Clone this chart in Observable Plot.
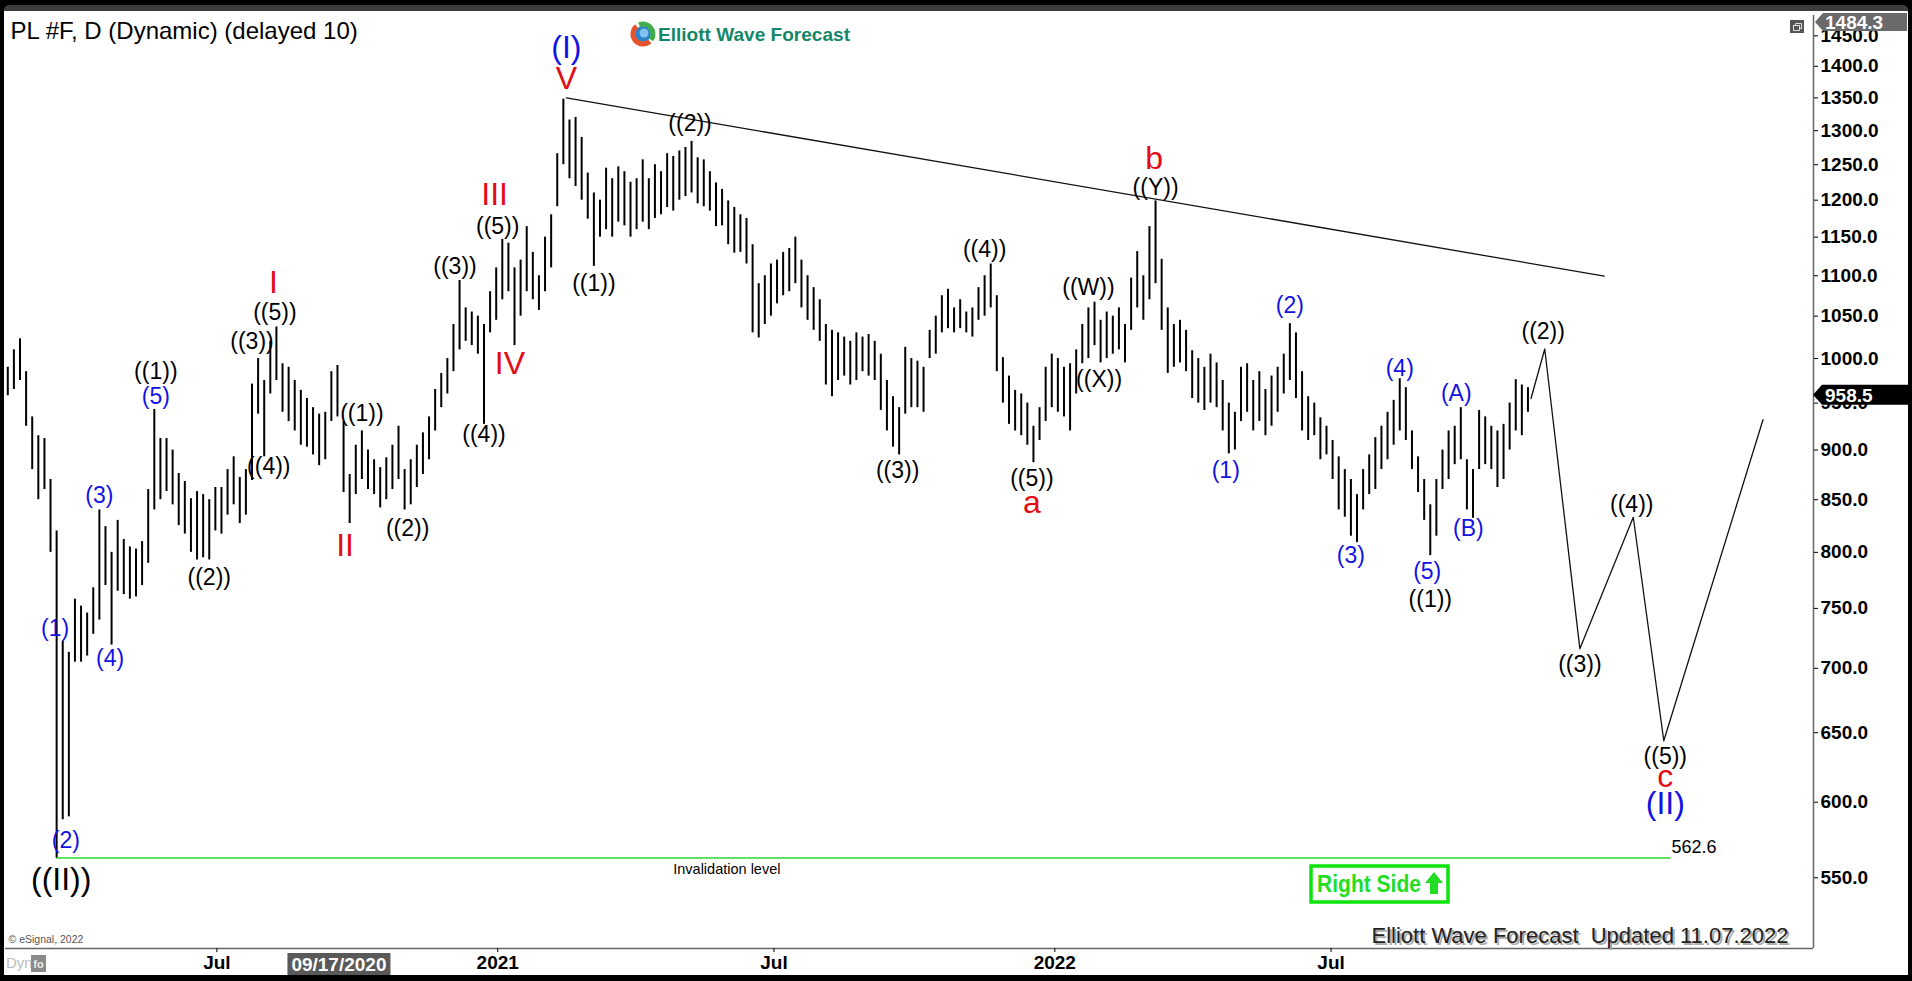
<!DOCTYPE html>
<html><head><meta charset="utf-8">
<script src="https://cdn.jsdelivr.net/npm/d3@7"></script>
<script src="https://cdn.jsdelivr.net/npm/@observablehq/plot@0.6"></script>
<style>
html,body{margin:0;padding:0;background:#000;overflow:hidden;width:1912px;height:981px;}
#win{position:absolute;left:4px;top:5px;width:1904px;height:970px;background:#fff;border-top:6px solid #3c3c3c;box-sizing:border-box;border-radius:5px 5px 0 0;}
#chart{position:absolute;left:0;top:0;}
</style></head><body>
<div id="win"></div><div id="chart"></div>
<script>
// ---------- DATA ----------
const barDates = [
"2020-02-15","2020-02-19","2020-02-23","2020-02-27","2020-03-02","2020-03-06","2020-03-10","2020-03-14","2020-03-18","2020-03-22",
"2020-03-26","2020-03-30","2020-04-03","2020-04-07","2020-04-11","2020-04-15","2020-04-19","2020-04-23","2020-04-27","2020-05-01",
"2020-05-05","2020-05-09","2020-05-13","2020-05-17","2020-05-21","2020-05-25","2020-05-29","2020-06-02","2020-06-06","2020-06-10",
"2020-06-14","2020-06-18","2020-06-22","2020-06-26","2020-06-30","2020-07-04","2020-07-08","2020-07-12","2020-07-16","2020-07-20",
"2020-07-24","2020-07-28","2020-08-01","2020-08-05","2020-08-09","2020-08-13","2020-08-17","2020-08-21","2020-08-25","2020-08-29",
"2020-09-02","2020-09-06","2020-09-10","2020-09-14","2020-09-18","2020-09-22","2020-09-26","2020-09-30","2020-10-04","2020-10-08",
"2020-10-12","2020-10-16","2020-10-20","2020-10-24","2020-10-28","2020-11-01","2020-11-05","2020-11-09","2020-11-13","2020-11-17",
"2020-11-21","2020-11-25","2020-11-29","2020-12-03","2020-12-07","2020-12-11","2020-12-15","2020-12-19","2020-12-23","2020-12-27",
"2020-12-31","2021-01-04","2021-01-08","2021-01-12","2021-01-16","2021-01-20","2021-01-24","2021-01-28","2021-02-01","2021-02-05",
"2021-02-09","2021-02-13","2021-02-17","2021-02-21","2021-02-25","2021-03-01","2021-03-05","2021-03-09","2021-03-13","2021-03-17",
"2021-03-21","2021-03-25","2021-03-29","2021-04-02","2021-04-06","2021-04-10","2021-04-14","2021-04-18","2021-04-22","2021-04-26",
"2021-04-30","2021-05-04","2021-05-08","2021-05-12","2021-05-16","2021-05-20","2021-05-24","2021-05-28","2021-06-01","2021-06-05",
"2021-06-09","2021-06-13","2021-06-17","2021-06-21","2021-06-25","2021-06-29","2021-07-03","2021-07-07","2021-07-11","2021-07-15",
"2021-07-19","2021-07-23","2021-07-27","2021-07-31","2021-08-04","2021-08-08","2021-08-12","2021-08-16","2021-08-20","2021-08-24",
"2021-08-28","2021-09-01","2021-09-05","2021-09-09","2021-09-13","2021-09-17","2021-09-21","2021-09-25","2021-09-29","2021-10-03",
"2021-10-07","2021-10-11","2021-10-15","2021-10-19","2021-10-23","2021-10-27","2021-10-31","2021-11-04","2021-11-08","2021-11-12",
"2021-11-16","2021-11-20","2021-11-24","2021-11-28","2021-12-02","2021-12-06","2021-12-10","2021-12-14","2021-12-18","2021-12-22",
"2021-12-26","2021-12-30","2022-01-03","2022-01-07","2022-01-11","2022-01-15","2022-01-19","2022-01-23","2022-01-27","2022-01-31",
"2022-02-04","2022-02-08","2022-02-12","2022-02-16","2022-02-20","2022-02-24","2022-02-28","2022-03-04","2022-03-08","2022-03-12",
"2022-03-16","2022-03-20","2022-03-24","2022-03-28","2022-04-01","2022-04-05","2022-04-09","2022-04-13","2022-04-17","2022-04-21",
"2022-04-25","2022-04-29","2022-05-03","2022-05-07","2022-05-11","2022-05-15","2022-05-19","2022-05-23","2022-05-27","2022-05-31",
"2022-06-04","2022-06-08","2022-06-12","2022-06-16","2022-06-20","2022-06-24","2022-06-28","2022-07-02","2022-07-06","2022-07-10",
"2022-07-14","2022-07-18","2022-07-22","2022-07-26","2022-07-30","2022-08-03","2022-08-07","2022-08-11","2022-08-15","2022-08-19",
"2022-08-23","2022-08-27","2022-08-31","2022-09-04","2022-09-08","2022-09-12","2022-09-16","2022-09-20","2022-09-24","2022-09-28",
"2022-10-02","2022-10-06","2022-10-10","2022-10-14","2022-10-18","2022-10-22","2022-10-26","2022-10-30","2022-11-03","2022-11-07"];
const barHighs = [
990,1010,1023,985,935,915,912,870,820,722,
713,758,752,746,768,840,824,800,830,812,
805,803,810,860,943,912,912,900,876,868,
851,858,855,850,862,862,880,893,872,880,
971,1000,975,1020,1037,994,990,975,964,955,
945,938,940,985,992,930,875,905,920,900,
890,882,892,905,925,880,890,905,918,935,
965,983,1000,1040,1094,1060,1055,1050,1040,1080,
1110,1147,1142,1110,1120,1164,1130,1100,1150,1180,
1266,1348,1316,1320,1290,1238,1210,1200,1245,1230,
1247,1240,1225,1230,1257,1230,1250,1240,1266,1262,
1270,1275,1284,1260,1257,1240,1224,1215,1199,1190,
1180,1175,1140,1090,1100,1115,1120,1130,1135,1150,
1120,1100,1085,1070,1040,1033,1030,1025,1020,1030,
1025,1028,1020,1005,975,957,945,1013,1000,997,
990,1033,1050,1075,1083,1060,1070,1055,1060,1085,
1100,1115,1075,1001,980,964,960,950,925,945,
990,1005,1000,990,994,1010,1040,1060,1067,1045,
1055,1050,1060,1040,1097,1131,1100,1164,1199,1121,
1060,1040,1045,1033,1009,1000,990,1005,995,975,
950,940,990,994,975,985,965,980,990,1005,
1041,1030,985,957,950,934,925,910,893,880,
870,855,880,895,913,925,940,953,977,967,
920,893,870,845,870,900,920,925,945,890,
880,942,935,925,920,927,950,976,970,967];
const barLows = [
958,965,975,925,880,850,860,800,562.6,588,
590,705,705,710,728,740,770,719,765,762,
758,760,770,790,840,850,858,845,825,817,
800,793,795,793,820,817,835,845,827,835,
869,938,893,960,975,940,930,920,905,903,
895,884,890,930,935,857,827,855,870,860,
855,842,850,860,870,840,845,862,875,890,
920,945,960,985,1010,1020,1015,1005,927,1030,
1045,1070,1080,1015,1050,1080,1070,1057,1080,1110,
1191,1250,1230,1219,1200,1174,1112,1150,1160,1150,
1170,1165,1150,1160,1170,1160,1175,1180,1190,1185,
1200,1205,1210,1195,1191,1185,1164,1165,1140,1129,
1130,1115,1030,1024,1040,1050,1065,1075,1080,1090,
1060,1045,1033,1020,970,957,975,980,970,975,
985,980,975,942,920,903,895,938,945,945,
940,1000,1005,1030,1035,1030,1035,1030,1025,1045,
1050,1060,985,950,927,920,915,905,887,910,
930,945,940,935,920,960,994,1000,1015,995,
1000,1005,1010,995,1033,1060,1045,1070,1090,1033,
983,990,995,985,955,950,942,950,945,920,
896,900,930,940,920,930,915,925,940,960,
975,955,920,910,915,890,895,870,840,833,
815,809,840,855,860,880,890,905,920,910,
880,857,830,797,815,860,870,885,890,840,
832,880,885,880,862,870,900,920,915,940];
const lastPrice = 958.5;
const axisTop = 1484.3;
const invalidation = 562.6;
const invalidationSpan = ["2020-03-18", "2023-02-08"];

const trendDates = ["2021-02-15", "2022-12-27"];
const trendPrices = [1350, 1099.5];
const forecastDates = ["2022-11-09","2022-11-18","2022-12-11","2023-01-15","2023-02-04","2023-04-10"];
const forecastPrices = [955, 1011, 716, 833, 644, 932];

const blueSmall = [
 ["(1)","2020-03-17",733],["(2)","2020-03-24",574],["(3)","2020-04-15",854],["(4)","2020-04-22",708],
 ["(5)","2020-05-22",957],["(1)","2022-04-23",879],["(2)","2022-06-04",1063],["(3)","2022-07-14",797],
 ["(4)","2022-08-15",989],["(5)","2022-09-02",782],["(A)","2022-09-21",960],["(B)","2022-09-29",822]];
const blueLarge = [["(I)","2021-02-15",1430],["(II)","2023-02-05",599]];
const blackSmall = [
 ["((1))","2020-05-22",985],["((2))","2020-06-26",777],["((3))","2020-07-24",1020],["((4))","2020-08-04",883],
 ["((5))","2020-08-08",1054],["((1))","2020-10-04",939],["((2))","2020-11-03",822],["((3))","2020-12-04",1111],
 ["((4))","2020-12-23",916],["((5))","2021-01-01",1164],["((1))","2021-03-05",1090],["((2))","2021-05-07",1311],
 ["((3))","2021-09-20",879],["((4))","2021-11-16",1133],["((5))","2021-12-17",871],["((W))","2022-01-23",1085],
 ["((X))","2022-01-30",976],["((Y))","2022-03-08",1218],["((1))","2022-09-04",758],["((2))","2022-11-17",1032],
 ["((3))","2022-12-11",703],["((4))","2023-01-14",845],["((5))","2023-02-05",632]];
const blackLarge = [["((II))","2020-03-21",548.6]];
const redLarge = [["V","2021-02-15",1380],["I","2020-08-07",1091],["II","2020-09-23",806],["III","2020-12-30",1207],["IV","2021-01-09",994]];
const redLetters = [["a","2021-12-17",847],["b","2022-03-07",1259],["c","2023-02-05",618]];
const noteLabels = [["Invalidation level","2021-04-26",555.6,14.5],["562.6","2023-02-09",569.5,18]];

const yTicks = [550,600,650,700,750,800,850,900,950,1000,1050,1100,1150,1200,1250,1300,1350,1400,1450];
const xTicks = ["2020-07-01","2021-01-01","2021-07-01","2022-01-01","2022-07-01"];
const cursorDate = "2020-09-17";
const cursorLabel = "09/17/2020";
const titleText = "PL #F, D (Dynamic) (delayed 10)";
const footerText = "Elliott Wave Forecast\u00a0 Updated 11.07.2022";

// ---------- BUILD ----------
const bars = barDates.map((d, i) => ({date: new Date(d), high: barHighs[i], low: barLows[i]}));
const trend = trendDates.map((d, i) => ({date: new Date(d), price: trendPrices[i]}));
const forecast = forecastDates.map((d, i) => ({date: new Date(d), price: forecastPrices[i]}));
const xDomain = [new Date("2020-02-13T12:00Z"), new Date("2023-05-13T02:00Z")];
const yDomain = [507, axisTop];
const lab = (arr, opts) => Plot.text(arr, {x: d => new Date(d[1]), y: d => d[2], text: d => d[0], ...opts});
const BLUE = "#1212e2", RED = "#e30b17";

const chart = Plot.plot({
  width: 1912, height: 981,
  marginLeft: 5, marginRight: 99, marginTop: 15, marginBottom: 33,
  style: {background: "transparent", fontFamily: "'Liberation Sans', Arial, sans-serif", color: "#000", overflow: "visible"},
  x: {type: "utc", domain: xDomain},
  y: {type: "log", domain: yDomain},
  marks: [
    Plot.line(invalidationSpan.map(d => ({date: new Date(d), price: invalidation})), {x: "date", y: "price", stroke: "#62e262", strokeWidth: 2}),
    Plot.ruleX(bars, {x: "date", y1: "low", y2: "high", stroke: "#000", strokeWidth: 2}),
    Plot.line(trend, {x: "date", y: "price", stroke: "#111", strokeWidth: 1.3}),
    Plot.line(forecast, {x: "date", y: "price", stroke: "#111", strokeWidth: 1.3}),
    lab(blueSmall, {fill: BLUE, fontSize: 23}),
    lab(blueLarge, {fill: BLUE, fontSize: 32}),
    lab(blackSmall, {fill: "#000", fontSize: 23}),
    lab(blackLarge, {fill: "#000", fontSize: 32}),
    lab(redLarge, {fill: RED, fontSize: 32}),
    lab(redLetters, {fill: RED, fontSize: 32}),
    Plot.text(noteLabels, {x: d => new Date(d[1]), y: d => d[2], text: d => d[0], fontSize: d => d[3], textAnchor: "start", fill: "#000"}),
    Plot.ruleX([xDomain[1]], {stroke: "#666", strokeWidth: 1.5}),
    Plot.ruleY([yDomain[0]], {stroke: "#666", strokeWidth: 1.5}),
    Plot.axisY({anchor: "right", ticks: yTicks, tickFormat: d => d.toFixed(1), tickSize: 4, tickPadding: 3, fontSize: 19, fontWeight: "bold", label: null}),
    Plot.axisX({ticks: xTicks.map(d => new Date(d)), tickFormat: d => d.getUTCMonth() === 0 ? String(d.getUTCFullYear()) : "Jul", tickSize: 4, tickPadding: 3, fontSize: 19, fontWeight: "bold", label: null}),
    Plot.text([titleText], {frameAnchor: "top-left", dx: 5, dy: 16, lineAnchor: "middle", fontSize: 24, fill: "#000"}),
    Plot.text(["\u00a9 eSignal, 2022"], {frameAnchor: "bottom-left", dx: 3, dy: -9, lineAnchor: "middle", fontSize: 10.5, fill: "#555"}),
    Plot.text([footerText], {frameAnchor: "bottom-right", dx: -23, dy: -11, lineAnchor: "middle", textAnchor: "end", fontSize: 22, fill: "#aaa"}),
    Plot.text([footerText], {frameAnchor: "bottom-right", dx: -25, dy: -13, lineAnchor: "middle", textAnchor: "end", fontSize: 22, fill: "#222"})
  ]
});
document.getElementById("chart").appendChild(chart);

// ---------- DECORATIONS ----------
const svg = d3.select(chart);
const xs = chart.scale("x"), ys = chart.scale("y");
const F = "'Liberation Sans', Arial, sans-serif";
const addText = (x, y, str, o = {}) => svg.append("text")
  .attr("x", x).attr("y", y).attr("dy", "0.36em")
  .attr("text-anchor", o.anchor || "start")
  .attr("fill", o.fill || "#000").attr("font-family", F)
  .attr("font-weight", o.weight || "normal").attr("font-size", o.size || 19)
  .call(s => { if (o.len) s.attr("textLength", o.len).attr("lengthAdjust", "spacingAndGlyphs"); })
  .text(str);

// last price tag
const yc = ys.apply(lastPrice);
svg.append("path").attr("d", `M1813,${yc} L1822,${yc-10} L1912,${yc-10} L1912,${yc+10} L1822,${yc+10} Z`).attr("fill", "#000");
addText(1825, yc, lastPrice.toFixed(1), {fill: "#fff", weight: "bold"});
// top price tag
svg.append("path").attr("d", "M1815,22 L1823,13 L1907,13 L1907,31 L1823,31 Z").attr("fill", "#6a6a6a");
addText(1825, 22, axisTop.toFixed(1), {fill: "#fff", weight: "bold"});
// window icon
svg.append("rect").attr("x", 1790).attr("y", 20).attr("width", 14).attr("height", 13).attr("fill", "#555");
svg.append("rect").attr("x", 1793.5).attr("y", 25.5).attr("width", 6).attr("height", 5).attr("fill", "none").attr("stroke", "#ddd").attr("stroke-width", 1);
svg.append("path").attr("d", "M1795.5,25 V23.5 H1801.5 V28.5 H1800").attr("fill", "none").attr("stroke", "#ddd").attr("stroke-width", 1);
// cursor date tag
const xc = xs.apply(new Date(cursorDate));
svg.append("rect").attr("x", xc - 48).attr("y", 953).attr("width", 103).attr("height", 22).attr("fill", "#595959");
addText(xc + 3.5, 964, cursorLabel, {anchor: "middle", fill: "#fff", weight: "bold"});
// Dyn
addText(6, 963, "Dyn", {fill: "#bdbdbd", size: 15});
svg.append("rect").attr("x", 31).attr("y", 955).attr("width", 15).attr("height", 17).attr("fill", "#8a8a8a");
addText(38.5, 964, "fo", {anchor: "middle", fill: "#eee", weight: "bold", size: 11});
// Right Side box
svg.append("rect").attr("x", 1311).attr("y", 866).attr("width", 137).attr("height", 36).attr("fill", "#fff").attr("stroke", "#0de30d").attr("stroke-width", 3.5);
addText(1317, 884, "Right Side", {fill: "#22dd22", weight: "bold", size: 23, len: 104});
svg.append("path").attr("d", "M1434,872 L1443,883 L1438,883 L1438,894 L1430,894 L1430,883 L1425,883 Z").attr("fill", "#22dd22");
// logo
const g = svg.append("g").attr("transform", "translate(643,34)");
g.append("circle").attr("r", 8).attr("fill", "#2b83c6");
g.append("circle").attr("r", 4.5).attr("cx", 1).attr("cy", -1).attr("fill", "#7fc3ee");
g.append("path").attr("d", d3.arc()({innerRadius: 7.5, outerRadius: 12.5, startAngle: -0.4, endAngle: 2.2})).attr("fill", "#3fae49");
g.append("path").attr("d", d3.arc()({innerRadius: 7.5, outerRadius: 12.5, startAngle: 2.4, endAngle: 5.6})).attr("fill", "#e8532b");
addText(658, 34, "Elliott Wave Forecast", {fill: "#14876a", weight: "bold", size: 19, len: 192});
</script>
</body></html>
